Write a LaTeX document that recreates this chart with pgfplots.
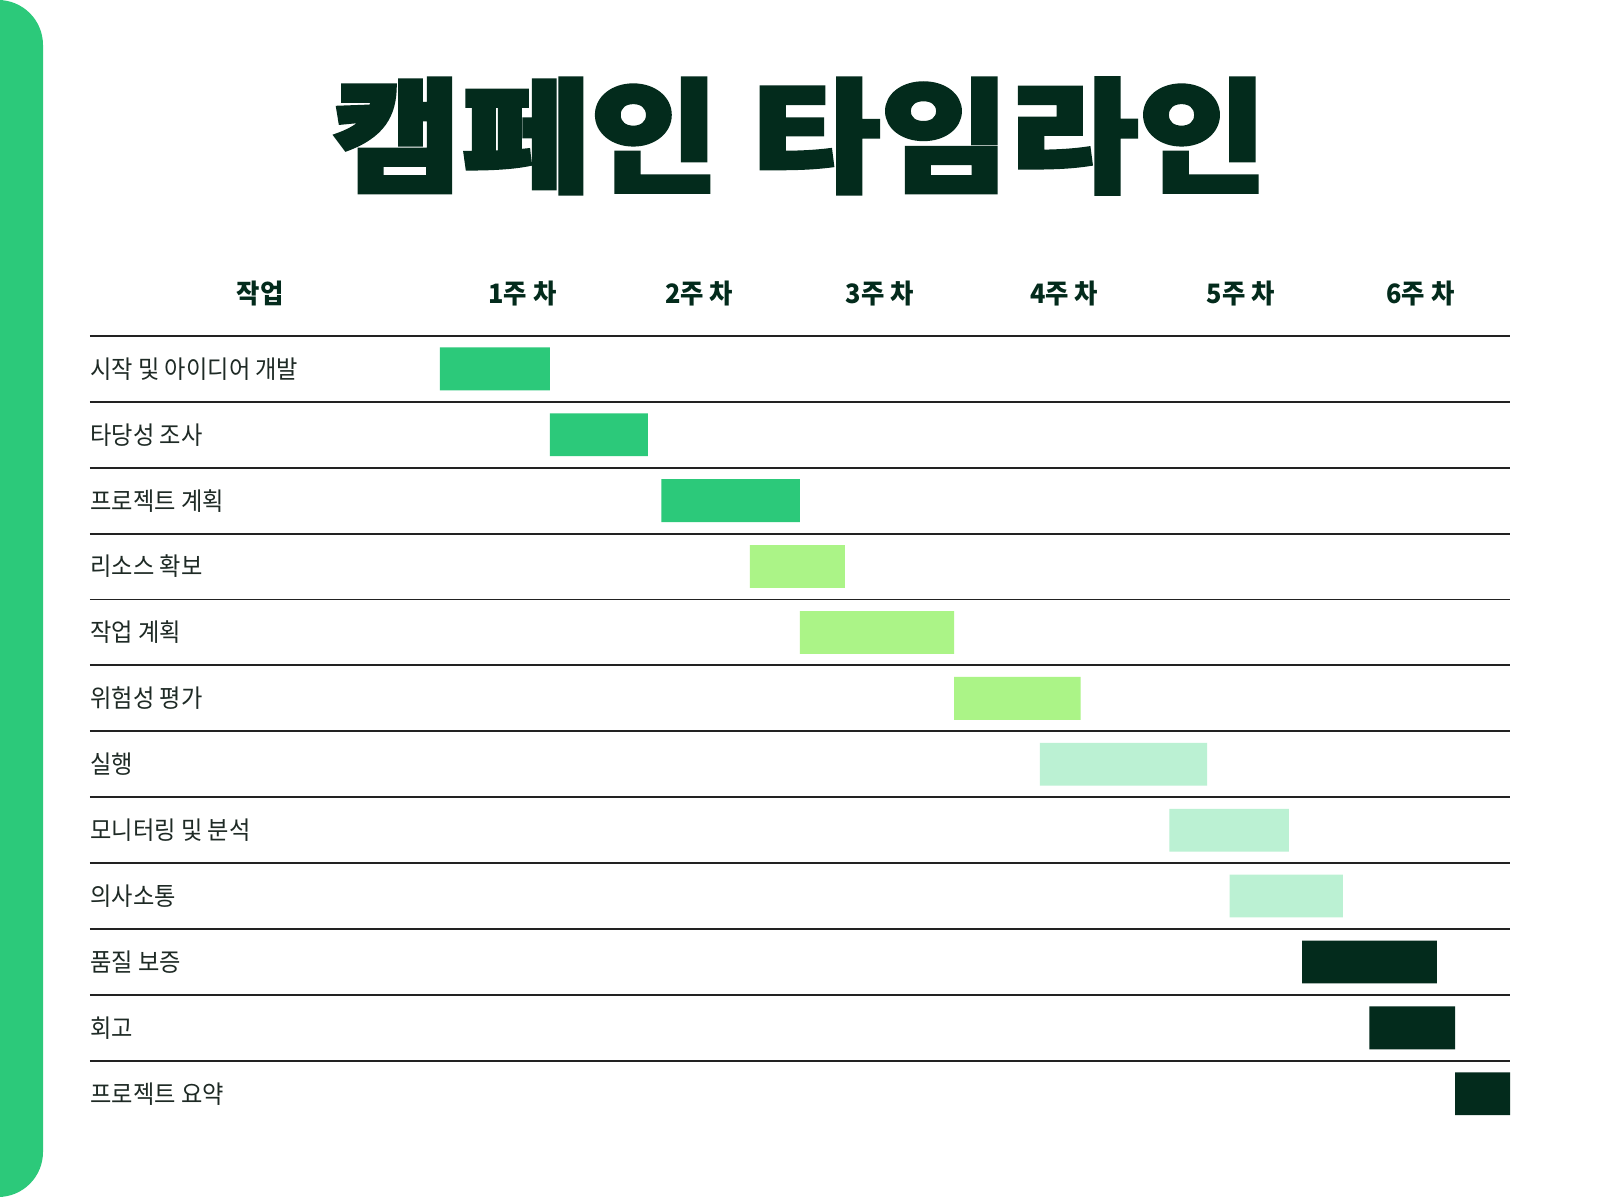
\documentclass[border=0pt]{standalone}
\usepackage{fontspec}
\usepackage{pgfplots}
\usepackage{pgfplotstable}
\pgfplotsset{compat=1.18}
\setmainfont{Noto Sans CJK KR}
\newfontfamily\labelfont[FakeStretch=0.93]{Noto Sans CJK KR}
\newfontfamily\headfont[FakeStretch=0.95]{Noto Sans CJK KR}
\newfontfamily\titlefont[FakeStretch=1.14, BoldFeatures={FakeBold=3}]{Noto Sans CJK KR}
\definecolor{cgreen}{HTML}{2CC97A}
\definecolor{clime}{HTML}{ABF487}
\definecolor{cmint}{HTML}{BBF1D3}
\definecolor{cdark}{HTML}{032B1C}
\definecolor{cline}{HTML}{222222}
\definecolor{ctext}{HTML}{1E2A25}

\pgfplotstableread{
row start g1 g2 g3 g4
1  0.040 0.613 0     0     0
2  0.653 0.546 0     0     0
3  1.273 0.772 0     0     0
4  1.767 0     0.528 0     0
5  2.045 0     0.858 0     0
6  2.903 0     0.705 0     0
7  3.381 0     0     0.932 0
8  4.102 0     0     0.665 0
9  4.438 0     0     0.630 0
10 4.841 0     0     0     0.750
11 5.216 0     0     0     0.477
12 5.693 0     0     0     0.307
}\tasks

\tikzset{hd/.style={text=cdark, font=\headfont\bfseries\fontsize{7.6pt}{9pt}\selectfont},
         lb/.style={anchor=west, inner sep=0pt, text=ctext, font=\labelfont\fontsize{7.1pt}{8.5pt}\selectfont}}

\begin{document}
\begin{tikzpicture}
\path[use as bounding box, fill=white] (0,0) rectangle (16,12);
\begin{scope}
\clip (0,0) rectangle (16,12);
\fill[cgreen, rounded corners=0.45cm] (-1,0.03) rectangle (0.43,12);
\end{scope}
\node[text=cdark, font=\titlefont\bfseries\fontsize{35pt}{38pt}\selectfont] at (8.0,10.64) {캠페인 타임라인};

\begin{axis}[
  at={(0.898cm,0.733cm)}, anchor=south west,
  scale only axis, width=14.204cm, height=7.908cm,
  xmin=-1.909, xmax=6.0, ymin=0.5, ymax=12.5,
  y dir=reverse,
  xbar stacked, bar width=0.65,
  axis line style={draw=none},
  xtick=\empty,
  ytick={0.5,1.5,...,11.5}, yticklabels={},
  major tick length=0pt,
  ymajorgrids, grid style={line width=0.55pt, cline},
  clip=false,
]
\addplot[draw=none, fill=none] table[x=start,y=row]{\tasks};
\addplot[draw=none, fill=cgreen] table[x=g1,y=row]{\tasks};
\addplot[draw=none, fill=clime] table[x=g2,y=row]{\tasks};
\addplot[draw=none, fill=cmint] table[x=g3,y=row]{\tasks};
\addplot[draw=none, fill=cdark] table[x=g4,y=row]{\tasks};

\node[hd] at (axis cs:-0.960,-0.15) {작업};
\node[hd] at (axis cs:0.5,-0.15) {1주 차};
\node[hd] at (axis cs:1.483,-0.15) {2주 차};
\node[hd] at (axis cs:2.489,-0.15) {3주 차};
\node[hd] at (axis cs:3.516,-0.15) {4주 차};
\node[hd] at (axis cs:4.5,-0.15) {5주 차};
\node[hd] at (axis cs:5.5,-0.15) {6주 차};

\node[lb] at (axis cs:-1.909,1) {시작 및 아이디어 개발};
\node[lb] at (axis cs:-1.909,2) {타당성 조사};
\node[lb] at (axis cs:-1.909,3) {프로젝트 계획};
\node[lb] at (axis cs:-1.909,4) {리소스 확보};
\node[lb] at (axis cs:-1.909,5) {작업 계획};
\node[lb] at (axis cs:-1.909,6) {위험성 평가};
\node[lb] at (axis cs:-1.909,7) {실행};
\node[lb] at (axis cs:-1.909,8) {모니터링 및 분석};
\node[lb] at (axis cs:-1.909,9) {의사소통};
\node[lb] at (axis cs:-1.909,10) {품질 보증};
\node[lb] at (axis cs:-1.909,11) {회고};
\node[lb] at (axis cs:-1.909,12) {프로젝트 요약};
\end{axis}
\end{tikzpicture}
\end{document}
